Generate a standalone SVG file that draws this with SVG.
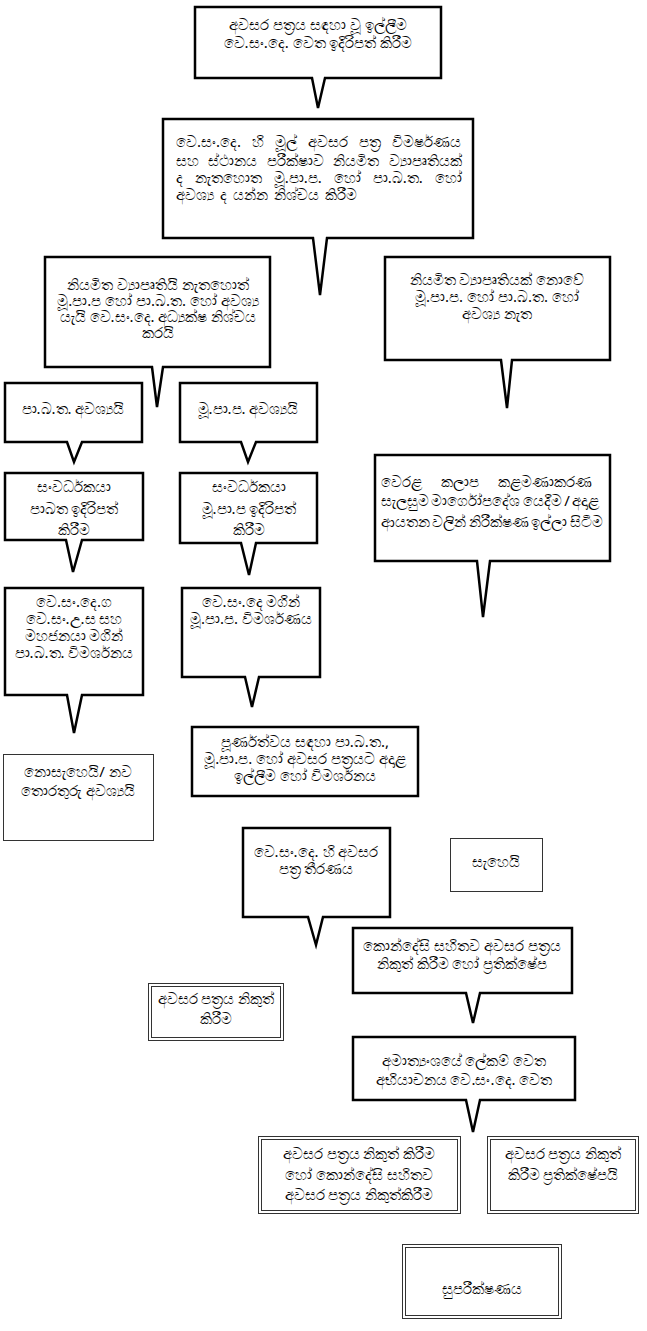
<svg xmlns="http://www.w3.org/2000/svg" width="647" height="1331" viewBox="0 0 647 1331">
<style>
.c{fill:#fff;stroke:#000;stroke-width:2.5;stroke-linejoin:miter}
.r{fill:#fff;stroke:#000;stroke-width:2.5}
.thin{fill:#fff;stroke:#333;stroke-width:1}
.dbl{fill:none;stroke:#333;stroke-width:1}
.t{font-family:"Noto Sans","DejaVu Sans",sans-serif;font-size:15px;fill:#000}
.m{text-anchor:middle}
</style>
<rect width="647" height="1331" fill="#fff"/>
<g id="connectors"/>
<g id="n1"><path class="c" d="M195,7 H441 V78 H325 L318,108 L312,78 H195 Z"/>
<text class="t m" x="318" y="30">අවසර පත්‍රය සඳහා වූ ඉල්ලීම</text>
<text class="t m" x="318" y="48">වෙ.සං.දෙ. වෙත ඉදිරිපත් කිරීම</text></g>
<g id="n2"><path class="c" d="M163,119 H473 V238 H327 L320,295 L313,238 H163 Z"/>
<text class="t" x="176" y="147" word-spacing="7">වෙ.සං.දෙ. හි මූල් අවසර පත්‍ර විමර්ෂණය</text>
<text class="t" x="176" y="166" word-spacing="5.5">සහ ස්ථානය පරීක්ෂාව නියමිත ව්‍යාපෘතියක්</text>
<text class="t" x="176" y="183" word-spacing="8">ද නැතහොත මූ.පා.ප. හෝ පා.බ.ත. හෝ</text>
<text class="t" x="176" y="200" word-spacing="2">අවශ්‍ය ද යන්න නිශ්චය කිරීම</text></g>
<g id="n3"><path class="c" d="M45,257 H270 V367 H163 L157,407 L152,367 H45 Z"/>
<text class="t m" x="158" y="290">නියමිත ව්‍යාපෘතියි නැතහොත්</text>
<text class="t m" x="158" y="306">මූ.පා.ප හෝ පා.බ.ත. හෝ අවශ්‍ය</text>
<text class="t m" x="158" y="322">යැයි වෙ.සං.දෙ. අධ්‍යක්ෂ නිශ්චය</text>
<text class="t m" x="158" y="338">කරයි</text></g>
<g id="n4"><path class="c" d="M385,257 H610 V360 H512 L507,408 L501,360 H385 Z"/>
<text class="t m" x="497" y="285">නියමිත ව්‍යාපෘතියක් නොවේ</text>
<text class="t m" x="497" y="302">මූ.පා.ප. හෝ පා.බ.ත. හෝ</text>
<text class="t m" x="497" y="319">අවශ්‍ය නැත</text></g>
<g id="n5"><path class="c" d="M5,383 H142 V442 H82 L74,462 L67,442 H5 Z"/>
<text class="t m" x="73" y="414">පා.බ.ත. අවශ්‍යයි</text></g>
<g id="n6"><path class="c" d="M180,383 H317 V442 H256 L248,462 L241,442 H180 Z"/>
<text class="t m" x="248" y="414">මූ.පා.ප. අවශ්‍යයි</text></g>
<g id="n7"><path class="c" d="M5,473 H143 V540 H82 L73,572 L66,540 H5 Z"/>
<text class="t m" x="74" y="492">සංවර්ධකයා</text>
<text class="t m" x="74" y="514">පාබත ඉදිරිපත්</text>
<text class="t m" x="74" y="535">කිරීම</text></g>
<g id="n8"><path class="c" d="M180,473 H317 V543 H256 L249,575 L241,543 H180 Z"/>
<text class="t m" x="249" y="492">සංවර්ධකයා</text>
<text class="t m" x="249" y="514">මූ.පා.ප ඉදිරිපත්</text>
<text class="t m" x="249" y="535">කිරීම</text></g>
<g id="n21"><path class="c" d="M375,455 H610 V561 H490 L483,617 L477,561 H375 Z"/>
<text class="t" x="381" y="487" word-spacing="15">වෙරළ කලාප කළමණාකරණ</text>
<text class="t" x="381" y="506" word-spacing="-1.5">සැලසුම මාර්ගෝපදේශ යෙදීම / අදාළ</text>
<text class="t" x="381" y="527" word-spacing="-1.5">ආයතන වලින් නිරීක්ෂණ ඉල්ලා සිටීම</text></g>
<g id="n9"><path class="c" d="M5,588 H143 V695 H82 L74,733 L67,695 H5 Z"/>
<text class="t m" x="74" y="607">වෙ.සං.දෙ.ග</text>
<text class="t m" x="74" y="624">වෙ.සං.උ.ස සහ</text>
<text class="t m" x="74" y="641">මහජනයා මගින්</text>
<text class="t m" x="74" y="658">පා.බ.ත. විමර්ශනය</text></g>
<g id="n10"><path class="c" d="M182,588 H320 V677 H259 L252,707 L245,677 H182 Z"/>
<text class="t m" x="251" y="607">වෙ.සං.දෙ  මගින්</text>
<text class="t m" x="251" y="624">මූ.පා.ප. විමර්ශණය</text></g>
<g id="n11"><rect class="r" x="192" y="727" width="226" height="69"/>
<text class="t m" x="305" y="747">පූර්ණත්වය සඳහා පා.බ.ත.,</text>
<text class="t m" x="305" y="764">මූ.පා.ප. හෝ අවසර පත්‍රයට අදාළ</text>
<text class="t m" x="305" y="781">ඉල්ලීම හෝ විමර්ශනය</text></g>
<g id="n12"><rect class="thin" x="3.5" y="754.5" width="150" height="86"/>
<text class="t m" x="78" y="777">නොසැහෙයි/ නව</text>
<text class="t m" x="78" y="796">තොරතුරු අවශ්‍යයි</text></g>
<g id="n13"><path class="c" d="M243,828 H390 V917 H323 L316,945 L308,917 H243 Z"/>
<text class="t m" x="316" y="857">වෙ.සං.දෙ. හි අවසර</text>
<text class="t m" x="316" y="874">පත්‍ර තීරණය</text></g>
<g id="n14"><rect class="thin" x="450.5" y="838.5" width="92" height="53"/>
<text class="t m" x="496" y="867">සැහෙයි</text></g>
<g id="n15"><path class="c" d="M353,928 H572 V993 H480 L473,1023 L466,993 H353 Z"/>
<text class="t m" x="462" y="951">කොන්දේසි සහිතව අවසර පත්‍රය</text>
<text class="t m" x="462" y="969">නිකුත් කිරීම හෝ ප්‍රතික්ෂේප</text></g>
<g id="n16"><rect class="dbl" x="148.5" y="983.5" width="135" height="57"/><rect class="dbl" x="151.5" y="986.5" width="129" height="51"/>
<text class="t m" x="216" y="1004">අවසර පත්‍රය නිකුත්</text>
<text class="t m" x="216" y="1024">කිරීම</text></g>
<g id="n17"><path class="c" d="M353,1037 H575 V1100 H480 L473,1132 L466,1100 H353 Z"/>
<text class="t m" x="464" y="1066">අමාත්‍යංශයේ ලේකම් වෙත</text>
<text class="t m" x="464" y="1085">අභියාචනය වෙ.සං.දෙ. වෙත</text></g>
<g id="n18"><rect class="dbl" x="258.5" y="1136.5" width="202" height="77"/><rect class="dbl" x="261.5" y="1139.5" width="196" height="71"/>
<text class="t m" x="359" y="1159">අවසර පත්‍රය  නිකුත් කිරීම</text>
<text class="t m" x="359" y="1180">හෝ කොන්දේසි සහිතව</text>
<text class="t m" x="359" y="1200">අවසර පත්‍රය නිකුත්කිරීම</text></g>
<g id="n19"><rect class="dbl" x="487.5" y="1136.5" width="151" height="77"/><rect class="dbl" x="490.5" y="1139.5" width="145" height="71"/>
<text class="t m" x="563" y="1159">අවසර පත්‍රය  නිකුත්</text>
<text class="t m" x="563" y="1180">කිරීම ප්‍රතික්ෂේපයි</text></g>
<g id="n20"><rect class="dbl" x="402.5" y="1244.5" width="159" height="74"/><rect class="dbl" x="405.5" y="1247.5" width="153" height="68"/>
<text class="t m" x="482" y="1294">සුපරීක්ෂණය</text></g>
</svg>
